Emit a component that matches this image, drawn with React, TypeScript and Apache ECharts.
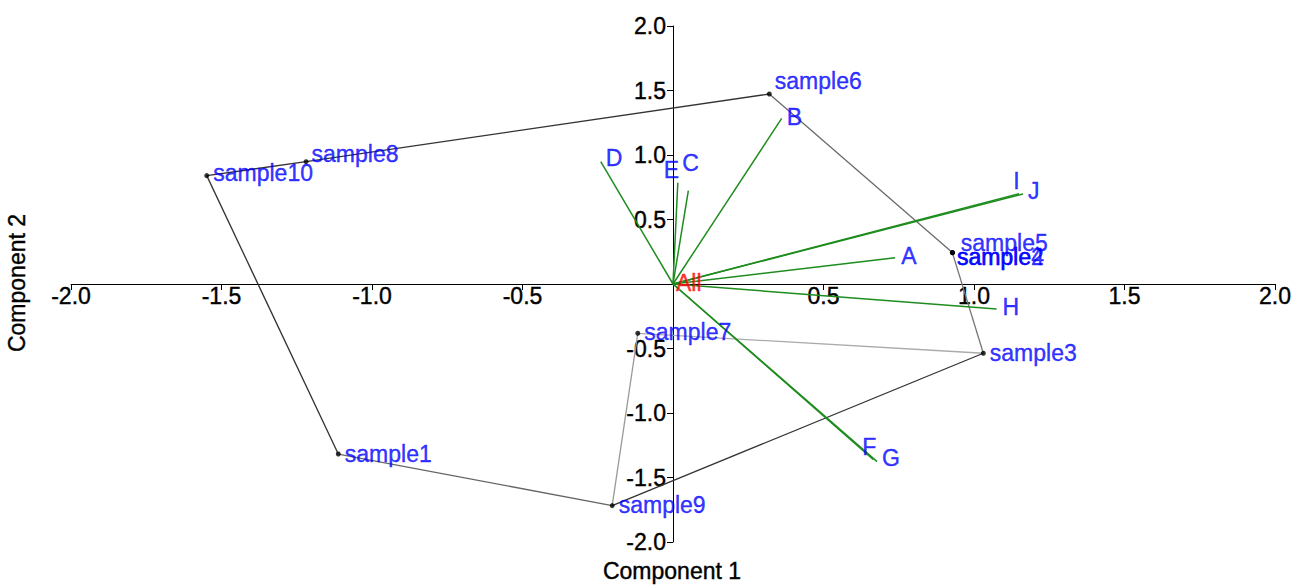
import React, { useEffect, useRef } from "react";
import * as echarts from "echarts";

// ---- Data ----
const sampleNames = ["sample1", "sample2", "sample3", "sample4", "sample5", "sample6", "sample7", "sample8", "sample9", "sample10"];
const sampleX = [-1.112, 0.928, 1.031, 0.929, 0.928, 0.32, -0.117, -1.219, -0.202, -1.549];
const sampleY = [-1.318, 0.243, -0.537, 0.242, 0.244, 1.473, -0.382, 0.948, -1.718, 0.84];

const loadingNames = ["A", "B", "C", "D", "E", "F", "G", "H", "I", "J"];
const loadingX = [0.738, 0.361, 0.051, -0.24, 0.016, 0.665, 0.678, 1.075, 1.15, 1.163];
const loadingY = [0.204, 1.284, 0.723, 0.948, 0.785, -1.36, -1.377, -0.194, 0.7, 0.698];

const originLabel = "All";

const hullEdges: [string, string][] = [
  ["sample10", "sample8"],
  ["sample8", "sample6"],
  ["sample6", "sample5"],
  ["sample5", "sample3"],
  ["sample3", "sample7"],
  ["sample7", "sample9"],
  ["sample9", "sample1"],
  ["sample1", "sample10"],
  ["sample3", "sample9"],
];

const axisTicks = [-2, -1.5, -1, -0.5, 0, 0.5, 1, 1.5, 2];
const xTitle = "Component 1";
const yTitle = "Component 2";

// ---- Styling (kept apart from data) ----
const FONT = "'Liberation Sans', Arial, sans-serif";
const FS = 23;
const BLUE = "#0000ff";
const GREEN = "#1e8c1e";
const GRID = { left: 71, right: 24, top: 26, bottom: 43 };
const W = 1299;
const H = 585;
const edgeColors = ["#333", "#333", "#6a6a6a", "#777", "#aaa", "#999", "#666", "#333", "#333"];
const sampleLabelOffsets: Record<string, [number, number]> = {
  sample1: [0, 0],
  sample2: [-2, 4],
  sample3: [0, 0],
  sample4: [-2, 4],
  sample5: [2, -10],
  sample6: [-1, -13],
  sample7: [0, -1],
  sample8: [-1, -8],
  sample9: [0, -1],
  sample10: [0, -3],
};
const loadingLabelOffsets: Record<string, [number, number]> = {
  A: [1, -2],
  B: [0, -1],
  C: [-11, -28],
  D: [0, -4],
  E: [-19, -13],
  F: [-16, -12],
  G: [0, -4],
  H: [1, -2],
  I: [-11, -13],
  J: [0, -3],
};

export default function App() {
  const ref = useRef<HTMLDivElement>(null);
  useEffect(() => {
    if (!ref.current) return;
    const chart = echarts.init(ref.current, undefined, { renderer: "svg" });

    const idx = (n: string) => sampleNames.indexOf(n);
    const lo = axisTicks[0];
    const hi = axisTicks[axisTicks.length - 1];
    const gw = W - GRID.left - GRID.right;
    const gh = H - GRID.top - GRID.bottom;
    // shift axes so they cross at the origin
    const xOffset = -gh * ((0 - lo) / (hi - lo));
    const yOffset = -gw * ((0 - lo) / (hi - lo));

    const axisCommon = {
      type: "value" as const,
      min: lo,
      max: hi,
      interval: 0.5,
      splitLine: { show: false },
      axisLine: { show: true, onZero: false, lineStyle: { color: "#000", width: 1 } },
      axisTick: { show: true, length: 6, lineStyle: { color: "#000", width: 1 } },
    };

    const labelFmt = (v: number) => (Math.abs(v) < 1e-9 ? "" : v.toFixed(1));
    const thick = (c: string) => ({ textBorderColor: c, textBorderWidth: 0.4 });

    const option: any = {
      animation: false,
      backgroundColor: "#fff",
      grid: { ...GRID, containLabel: false },
      xAxis: {
        ...axisCommon,
        position: "bottom",
        offset: xOffset,
        axisLabel: {
          formatter: labelFmt,
          fontSize: FS,
          color: "#000",
          fontFamily: FONT,
          margin: 0,
          showMinLabel: true,
          showMaxLabel: true,
          ...thick("#000"),
        },
      },
      yAxis: {
        ...axisCommon,
        position: "left",
        offset: yOffset,
        axisLabel: {
          formatter: labelFmt,
          fontSize: FS,
          color: "#000",
          fontFamily: FONT,
          margin: 7,
          showMinLabel: true,
          showMaxLabel: true,
          ...thick("#000"),
        },
      },
      graphic: [
        {
          type: "text",
          x: 672,
          y: 571,
          style: {
            text: xTitle,
            font: `${FS}px ${FONT}`,
            fill: "#000",
            align: "center",
            verticalAlign: "middle",
            stroke: "#000",
            lineWidth: 0.4,
          },
        },
        {
          type: "text",
          x: 17,
          y: 283,
          rotation: Math.PI / 2,
          style: {
            text: yTitle,
            font: `${FS}px ${FONT}`,
            fill: "#000",
            align: "center",
            verticalAlign: "middle",
            stroke: "#000",
            lineWidth: 0.4,
          },
        },
      ],
      series: [
        {
          type: "lines",
          coordinateSystem: "cartesian2d",
          silent: true,
          z: 2,
          data: hullEdges.map(([a, b], i) => ({
            coords: [
              [sampleX[idx(a)], sampleY[idx(a)]],
              [sampleX[idx(b)], sampleY[idx(b)]],
            ],
            lineStyle: { color: edgeColors[i], width: 1.3, opacity: 1 },
          })),
        },
        {
          type: "lines",
          coordinateSystem: "cartesian2d",
          silent: true,
          z: 3,
          data: loadingNames.map((n, i) => ({
            coords: [
              [0, 0],
              [loadingX[i], loadingY[i]],
            ],
          })),
          lineStyle: { color: GREEN, width: 1.5, opacity: 1 },
        },
        {
          type: "scatter",
          z: 4,
          symbol: "circle",
          symbolSize: 5,
          itemStyle: { color: "#000" },
          data: sampleNames.map((n, i) => ({
            name: n,
            value: [sampleX[i], sampleY[i]],
            label: { offset: sampleLabelOffsets[n] },
          })),
          label: {
            show: true,
            position: "right",
            distance: 4,
            formatter: (p: any) => p.name,
            color: BLUE,
            fontSize: FS,
            fontFamily: FONT,
            ...thick(BLUE),
          },
        },
        {
          type: "scatter",
          z: 5,
          symbolSize: 0,
          itemStyle: { color: "transparent" },
          data: loadingNames.map((n, i) => ({
            name: n,
            value: [loadingX[i], loadingY[i]],
            label: { offset: loadingLabelOffsets[n] },
          })),
          label: {
            show: true,
            position: "right",
            distance: 5,
            formatter: (p: any) => p.name,
            color: BLUE,
            fontSize: FS,
            fontFamily: FONT,
            ...thick(BLUE),
          },
        },
        {
          type: "scatter",
          z: 5,
          symbolSize: 0,
          itemStyle: { color: "transparent" },
          data: [{ name: originLabel, value: [0, 0] }],
          label: {
            show: true,
            position: "right",
            distance: 3,
            offset: [0, -1],
            formatter: (p: any) => p.name,
            color: "#ff0000",
            fontSize: FS,
            fontFamily: FONT,
            ...thick("#ff0000"),
          },
        },
      ],
    };

    chart.setOption(option);
    return () => chart.dispose();
  }, []);

  return (
    <div
      ref={ref}
      style={{ position: "absolute", left: 0, top: 0, width: W, height: H, background: "#fff" }}
    />
  );
}
